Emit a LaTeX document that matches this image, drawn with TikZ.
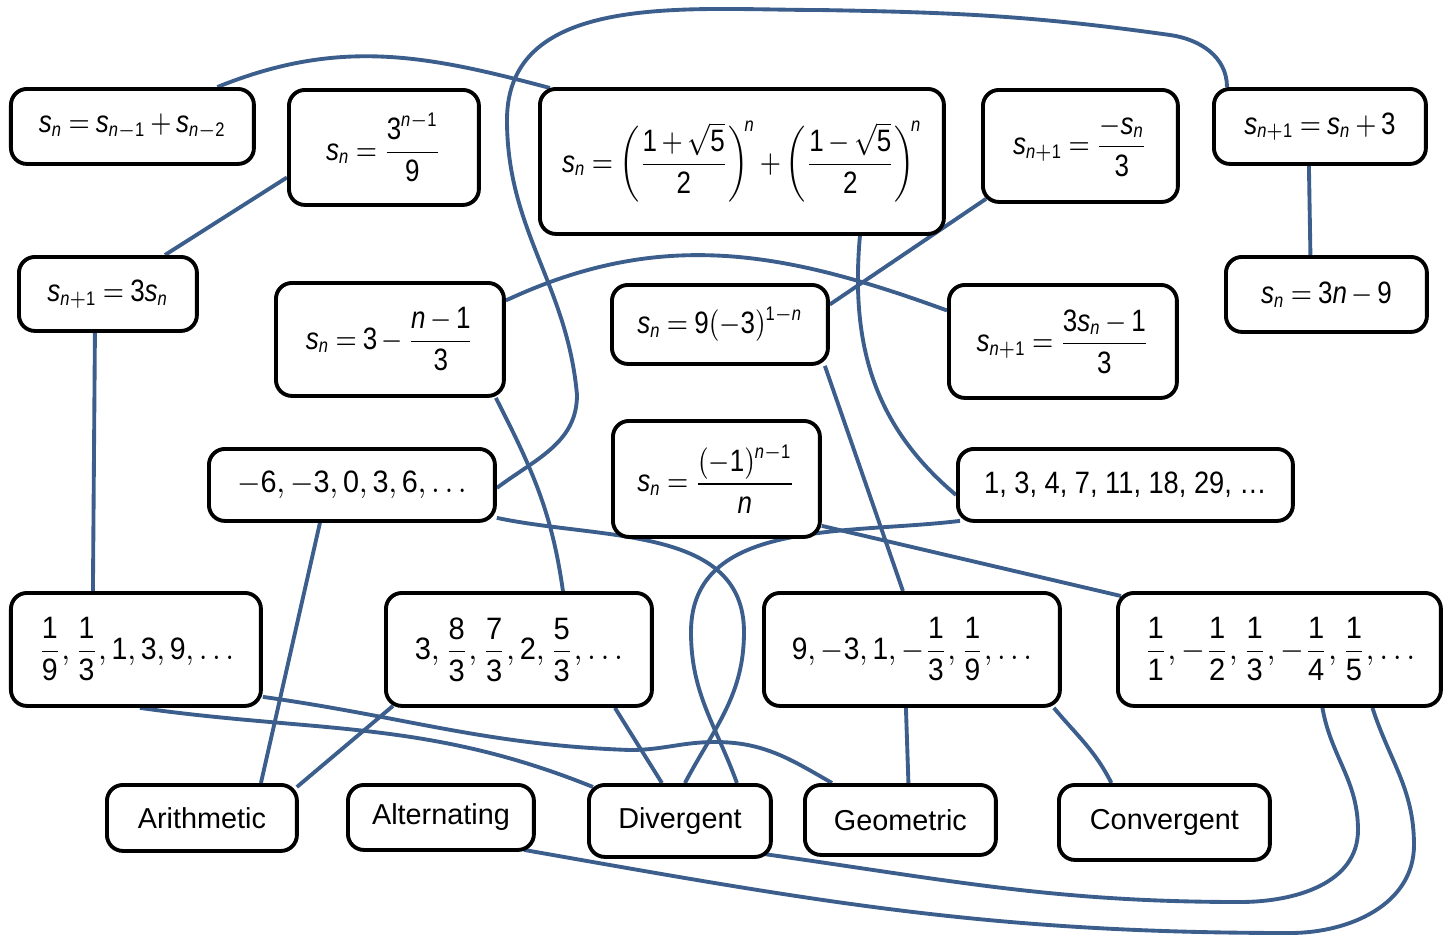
\documentclass[tikz,border=0pt]{standalone}
\usepackage{amsmath}
\usepackage{mathspec}
\setmainfont{Liberation Sans}
\setmathsfont(Digits,Latin){Liberation Sans}
\DeclareMathSizes{8.8}{8.8}{5.6}{4.5}
\thickmuskip=4mu plus 1mu
\medmuskip=3mu plus 1mu
\newcommand{\narrow}[2][0.84]{\scalebox{#1}[1]{#2}}
\definecolor{linkcolor}{RGB}{59,94,140}
\usetikzlibrary{positioning,backgrounds}
\tikzset{
	card/.style={
		rectangle,
		rounded corners=1.6mm,
		line width=1.1pt,
		draw=black,
		fill=white,
		align=center,
		inner sep=0pt,
		anchor=north west,
		font=\fontsize{8.8}{10}\selectfont
	},
	tag/.style={
		card,
		font=\fontsize{8.2}{10}\selectfont
	},
	link/.style={
		draw=linkcolor,
		line width=1.1pt
	},
}

\begin{document}
\begin{tikzpicture}[x=0.1mm,y=-0.1mm]
\useasboundingbox (0,0) rectangle (1452,936);

% formulas
\node[card, minimum width=24.3mm, minimum height=7.5mm] (rec1) at (9,87) {\narrow{$s_n = s_{n-1} + s_{n-2}$}};
\node[card, minimum width=19mm, minimum height=11.5mm] (pow) at (287,88) {\narrow{$s_n = \dfrac{3^{n-1}}{9}$}};
\node[card, minimum width=40.4mm, minimum height=14.5mm] (fib) at (538,87) {\narrow{$s_n = \left(\dfrac{1+\sqrt{5}}{2}\right)^{\!n} + \left(\dfrac{1-\sqrt{5}}{2}\right)^{\!n}$}};
\node[card, minimum width=19.5mm, minimum height=11.2mm] (ratio) at (981,88) {\narrow{$s_{n+1} = \dfrac{-s_n}{3}$}};
\node[card, minimum width=21.2mm, minimum height=7.5mm] (add3) at (1212,87) {\narrow{$s_{n+1} = s_n + 3$}};
\node[card, minimum width=17.8mm, minimum height=7.4mm] (mul3) at (17,255) {\narrow{$s_{n+1} = 3s_n$}};
\node[card, minimum width=22.8mm, minimum height=11.3mm] (lin) at (274,281) {\narrow{$s_n = 3 - \dfrac{n-1}{3}$}};
\node[card, minimum width=21.6mm, minimum height=7.9mm] (geo) at (610,283) {\narrow{$s_n = 9(-3)^{1-n}$}};
\node[card, minimum width=22.8mm, minimum height=11.3mm] (rec2) at (947,283) {\narrow{$s_{n+1} = \dfrac{3s_n - 1}{3}$}};
\node[card, minimum width=20.1mm, minimum height=7.5mm] (lin2) at (1224,255) {\narrow{$s_n = 3n - 9$}};
\node[card, minimum width=20.7mm, minimum height=11.6mm] (alt) at (611,419) {\narrow{$s_n = \dfrac{(-1)^{n-1}}{n}$}};

% sequences
\node[card, minimum width=28.6mm, minimum height=7.2mm] (seqA) at (207,447) {\narrow[0.93]{$-6, -3, 0, 3, 6, \ldots$}};
\node[card, minimum width=33.5mm, minimum height=7.2mm] (seqF) at (956,447) {\narrow[0.88]{1, 3, 4, 7, 11, 18, 29, \dots}};
\node[card, minimum width=25mm, minimum height=11.3mm] (seqG) at (9,591) {\narrow[0.92]{$\dfrac{1}{9}, \dfrac{1}{3}, 1, 3, 9, \ldots$}};
\node[card, minimum width=26.6mm, minimum height=11.3mm] (seqL) at (384,591) {\narrow[0.94]{$3, \dfrac{8}{3}, \dfrac{7}{3}, 2, \dfrac{5}{3}, \ldots$}};
\node[card, minimum width=29.6mm, minimum height=11.3mm] (seqR) at (762,591) {\narrow[0.91]{$9, -3, 1, -\dfrac{1}{3}, \dfrac{1}{9}, \ldots$}};
\node[card, minimum width=32.3mm, minimum height=11.3mm] (seqH) at (1116,591) {\narrow[0.94]{$\dfrac{1}{1}, -\dfrac{1}{2}, \dfrac{1}{3}, -\dfrac{1}{4}, \dfrac{1}{5}, \ldots$}};

% kinds
\node[tag, minimum width=19mm, minimum height=6.6mm] (arith) at (105,783) {Arithmetic};
\node[tag, minimum width=18.6mm, minimum height=6.5mm] (altern) at (346,783) {Alternating};
\node[tag, minimum width=18.2mm, minimum height=7.2mm] (diverg) at (587,783) {Divergent};
\node[tag, minimum width=19.1mm, minimum height=7mm] (geom) at (803,783) {Geometric};
\node[tag, minimum width=21.1mm, minimum height=7.5mm] (conv) at (1057,783) {Convergent};

\begin{scope}[on background layer]
% top rows
\draw[link] ([xshift=8.5mm]rec1.north) to[out=22,in=165] ([xshift=1.2mm,yshift=-0.1mm]fib.north west);
\path[link] ([yshift=-3mm]pow.west) edge ([xshift=5.7mm]mul3.north);
\draw[link] ([yshift=-0.3mm]seqA.east) to[out=37,in=-90] (577,395) to[out=95,in=-90] (507,120)
	to[out=90,in=180] (820,10) to[out=-1,in=172] (1170,35) to[out=-8,in=90] ([xshift=1.5mm]add3.north west);
\path[link] ([xshift=-1.1mm]add3.south) edge ([xshift=-1.6mm]lin2.north);
\path[link] ([shift={(0.5mm,0.5mm)}]ratio.south west) edge ([yshift=2mm]geo.east);
\draw[link] ([yshift=3.9mm]lin.east) to[out=25,in=160] ([yshift=3.1mm]rec2.west);
\draw[link] ([xshift=11.8mm]fib.south) to[out=-95,in=140] ([yshift=-1mm]seqF.west);

% middle rows
\path[link] ([xshift=-1.3mm]mul3.south) edge ([xshift=-4.3mm]seqG.north);
\draw[link] ([xshift=-1mm]lin.south east) to[out=-63,in=98] ([xshift=4.4mm]seqL.north);
\path[link] ([xshift=-0.5mm]geo.south east) edge ([xshift=-0.9mm]seqR.north);
\path[link] ([xshift=-3.2mm]seqA.south) edge ([xshift=5.9mm]arith.north);
\draw[link] ([yshift=0.5mm]seqA.south east) to[out=-12,in=90] (744,632) to[out=-90,in=62] ([xshift=0.5mm]diverg.north);
\draw[link] ([shift={(0.4mm,0.2mm)}]seqF.south west) to[out=187,in=90] (691,632) to[out=-90,in=110] ([xshift=5.7mm]diverg.north);
\path[link] ([yshift=1.3mm]alt.south east) edge ([shift={(0.5mm,-0.5mm)}]seqH.north west);

% bottom row
\draw[link] ([xshift=0.4mm]seqG.south) to[out=-8,in=158] ([shift={(0.6mm,-0.4mm)}]diverg.north west);
\draw[link] ([yshift=1.1mm]seqG.south east) to[out=-8,in=178] (630,750) to[out=0,in=180] (715,742)
	to[out=0,in=150] ([xshift=2.9mm]geom.north west);
\path[link] ([shift={(0.9mm,0.2mm)}]seqL.south west) edge ([shift={(-0.2mm,-0.4mm)}]arith.north east);
\path[link] ([xshift=9.6mm]seqL.south) edge ([xshift=-1.8mm]diverg.north);
\path[link] ([xshift=-0.6mm]seqR.south) edge ([xshift=0.8mm]geom.north);
\draw[link] ([xshift=-0.8mm]seqR.south east) to[out=-50,in=117] ([xshift=-5.3mm]conv.north);
\draw[link] ([xshift=4.3mm]seqH.south) to[out=-80,in=90] (1358,830) to[out=-90,in=0] (1240,902)
	to[out=180,in=-8] ([shift={(-1mm,0.5mm)}]diverg.south east);
\draw[link] ([xshift=9.3mm]seqH.south) to[out=-72,in=90] (1414,845) to[out=-90,in=0] (1290,933)
	to[out=180,in=-10] ([shift={(-1.2mm,0.2mm)}]altern.south east);
\end{scope}
\end{tikzpicture}
\end{document}
